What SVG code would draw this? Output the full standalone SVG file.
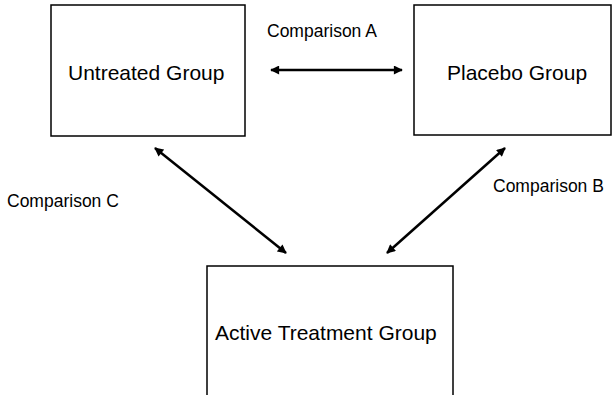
<svg xmlns="http://www.w3.org/2000/svg" width="613" height="395" viewBox="0 0 613 395">
<style>
.box{fill:#fff;stroke:#000;stroke-width:1.5}
.nt{font-family:"Liberation Sans",Arial,sans-serif;font-size:21px;fill:#000}
.lb{font-family:"Liberation Sans",Arial,sans-serif;font-size:17.5px;fill:#000}
.cn{stroke:#000;stroke-width:2.5;fill:none;marker-start:url(#ah);marker-end:url(#ah)}
</style>
<defs>
<marker id="ah" viewBox="0 0 10 10" refX="9" refY="5" markerWidth="4" markerHeight="3.6" orient="auto-start-reverse" markerUnits="strokeWidth">
<path d="M0,0 L10,5 L0,10 z" fill="#000"/>
</marker>
</defs>
<rect width="613" height="395" fill="#fff"/>
<g id="untreated">
<rect class="box" x="51" y="5" width="194" height="131"/>
<text class="nt" x="68" y="80">Untreated Group</text>
</g>
<g id="placebo">
<rect class="box" x="414" y="5" width="197" height="130"/>
<text class="nt" x="447" y="80">Placebo Group</text>
</g>
<g id="active">
<rect class="box" x="207" y="266" width="246" height="130"/>
<text class="nt" x="215" y="340">Active Treatment Group</text>
</g>
<g id="connectors">
<line class="cn" x1="271" y1="70" x2="402" y2="70"/>
<line class="cn" x1="155" y1="148" x2="286" y2="253"/>
<line class="cn" x1="505" y1="148" x2="387" y2="253"/>
</g>
<g id="labels">
<text class="lb" x="267" y="37">Comparison A</text>
<text class="lb" x="493" y="192">Comparison B</text>
<text class="lb" x="7" y="207">Comparison C</text>
</g>
</svg>
